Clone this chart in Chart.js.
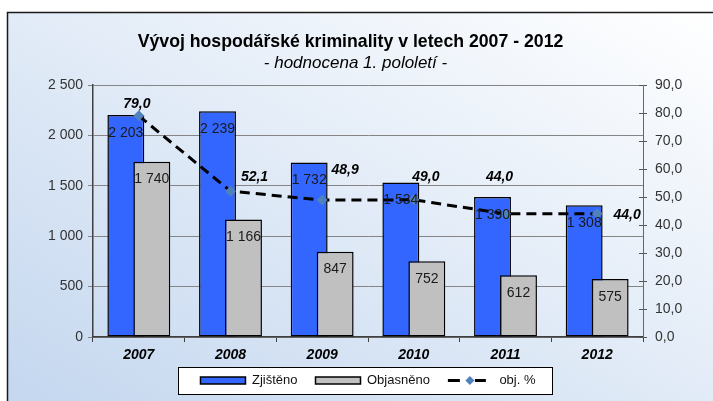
<!DOCTYPE html>
<html><head><meta charset="utf-8">
<script src="https://cdn.jsdelivr.net/npm/chart.js@4/dist/chart.umd.min.js"></script>
<style>html,body{margin:0;padding:0;background:#fff}canvas{display:block}</style>
</head><body>
<canvas id="c" width="713" height="401"></canvas>
<script>
// ---- data ----
const categories = ['2007', '2008', '2009', '2010', '2011', '2012'];
const zjisteno = [2203, 2239, 1732, 1534, 1390, 1308];
const objasneno = [1740, 1166, 847, 752, 612, 575];
const objPct = [79.0, 52.1, 48.9, 49.0, 44.0, 44.0];
const leftTicks = [0, 500, 1000, 1500, 2000, 2500];
const rightTicks = [0, 10, 20, 30, 40, 50, 60, 70, 80, 90];
const seriesNames = ['Zjištěno', 'Objasněno', 'obj. %'];
const titleText = 'Vývoj hospodářské kriminality v letech 2007 - 2012';
const subtitleText = '- hodnocena 1. pololetí -';

// ---- styles (label offsets for the % labels, px) ----
const pctLabelDx = [-2, 24, 23, 12, -6, 30];
const pctLabelDy = [-12, -14, -30, -23, -37, 1];

const FONT = "'Liberation Sans', Arial, sans-serif";
Chart.defaults.font.family = FONT;

const fmtThousands = v => String(Math.round(v)).replace(/\B(?=(\d{3})+(?!\d))/g, ' ');
const fmtPct = v => Number(v).toFixed(1).replace('.', ',');

const LINE_DS = 2;

const bgPlugin = {
  id: 'bgFrame',
  afterLayout(chart) {
    // nudge title blocks and legend like the original layout
    chart.boxes.forEach(b => {
      if (b.options && b.options.text === titleText) { b.left -= 10; b.right -= 10; }
      if (b.options && b.options.text === subtitleText) { b.left -= 5; b.right -= 5; }
    });
    const lg = chart.legend;
    if (lg) { lg.top -= 7; lg.bottom -= 7; }
  },
  beforeDraw(chart) {
    const ctx = chart.ctx, W = chart.width, H = chart.height;
    ctx.save();
    ctx.fillStyle = '#ffffff';
    ctx.fillRect(0, 0, W, H);
    const x0 = 7, y0 = 12, w = W - x0, h = H - y0;
    const ex = x0 + 2 * w * h * h / (w * w + h * h);
    const ey = (y0 + h) - 2 * h * w * w / (w * w + h * h);
    const g = ctx.createLinearGradient(x0, y0 + h, ex, ey);
    g.addColorStop(0, '#c4d7ef');
    g.addColorStop(1, '#ffffff');
    ctx.fillStyle = g;
    ctx.fillRect(x0, y0, w, h);
    ctx.strokeStyle = '#1a1a1a';
    ctx.lineWidth = 1.5;
    ctx.beginPath();
    ctx.moveTo(x0 + 0.5, H + 2);
    ctx.lineTo(x0 + 0.5, y0 + 0.5);
    ctx.lineTo(W + 2, y0 + 0.5);
    ctx.stroke();
    // legend frame
    const hb = chart.legend && chart.legend.legendHitBoxes;
    if (hb && hb.length) {
      const first = hb[0], last = hb[hb.length - 1];
      const cy = first.top + first.height / 2;
      const lx = Math.round(first.left - 22) + 0.5;
      const rx = Math.round(last.left + last.width + 16) + 0.5;
      const ty = Math.round(cy - 13.5) + 0.5;
      const by = Math.round(cy + 13.5) + 0.5;
      ctx.fillStyle = '#ffffff';
      ctx.fillRect(lx, ty, rx - lx, by - ty);
      ctx.strokeStyle = '#000';
      ctx.lineWidth = 1;
      ctx.strokeRect(lx, ty, rx - lx, by - ty);
    }
    ctx.restore();
  },
  afterDraw(chart) {
    const ctx = chart.ctx;
    // inner half of the secondary axis tick marks (they cross the axis line)
    const s = chart.scales.y1;
    if (s) {
      ctx.save();
      ctx.strokeStyle = '#555';
      ctx.lineWidth = 1;
      ctx.beginPath();
      s.ticks.forEach((t, i) => {
        const y = Math.round(s.getPixelForTick(i)) + 0.5;
        ctx.moveTo(s.left - 4, y);
        ctx.lineTo(s.left, y);
      });
      ctx.stroke();
      ctx.restore();
    }
    const lg = chart.legend;
    if (!lg || !lg.legendItems) return;
    const idx = lg.legendItems.findIndex(it => it.datasetIndex === LINE_DS);
    if (idx < 0) return;
    const b = lg.legendHitBoxes[idx];
    const cy = b.top + b.height / 2;
    const x0 = b.left;
    ctx.save();
    ctx.strokeStyle = '#000';
    ctx.lineWidth = 3;
    ctx.beginPath();
    ctx.moveTo(x0, cy); ctx.lineTo(x0 + 12, cy);
    ctx.moveTo(x0 + 27, cy); ctx.lineTo(x0 + 38, cy);
    ctx.stroke();
    ctx.fillStyle = '#4f81bd';
    ctx.beginPath();
    ctx.moveTo(x0 + 22, cy - 4.5);
    ctx.lineTo(x0 + 26.5, cy);
    ctx.lineTo(x0 + 22, cy + 4.5);
    ctx.lineTo(x0 + 17.5, cy);
    ctx.closePath();
    ctx.fill();
    ctx.restore();
  }
};

const labelPlugin = {
  id: 'valueLabels',
  afterDatasetsDraw(chart) {
    const ctx = chart.ctx;
    ctx.save();
    ctx.textAlign = 'center';
    ctx.textBaseline = 'middle';
    chart.data.datasets.forEach((ds, di) => {
      const meta = chart.getDatasetMeta(di);
      if (!meta.visible || ds.label === '') return;
      if (meta.type === 'bar') {
        ctx.font = '14px ' + FONT;
        ctx.fillStyle = '#1a1a1a';
        meta.data.forEach((el, i) => {
          ctx.fillText(fmtThousands(ds.data[i]), el.x, el.y + 18);
        });
      } else {
        ctx.font = 'italic bold 14px ' + FONT;
        ctx.fillStyle = '#000';
        meta.data.forEach((el, i) => {
          ctx.fillText(fmtPct(ds.data[i]), el.x + pctLabelDx[i], el.y + pctLabelDy[i]);
        });
      }
    });
    ctx.restore();
  }
};

new Chart(document.getElementById('c'), {
  type: 'bar',
  data: {
    labels: categories,
    datasets: [
      {
        label: seriesNames[0], data: zjisteno, stack: 'A', order: 2,
        backgroundColor: '#3366ff', borderColor: '#000', borderWidth: 1.5, borderSkipped: false,
        categoryPercentage: 0.567, barPercentage: 1.42
      },
      {
        label: seriesNames[1], data: objasneno, stack: 'B', order: 1,
        backgroundColor: '#c0c0c0', borderColor: '#000', borderWidth: 1.5, borderSkipped: false,
        categoryPercentage: 0.567, barPercentage: 1.42
      },
      {
        type: 'line', label: seriesNames[2], data: objPct, yAxisID: 'y1', order: -1,
        borderColor: '#000', borderWidth: 3, borderDash: [10, 6], fill: false, tension: 0,
        pointStyle: 'rectRot', pointRadius: 5.5, pointBackgroundColor: '#4f81bd',
        pointBorderColor: '#4f81bd', pointBorderWidth: 0
      },
      {
        // empty helper set so that Zjištěno sits left while Objasněno is painted over it
        label: '', data: categories.map(() => null), stack: 'A', order: 0,
        backgroundColor: 'rgba(0,0,0,0)', borderWidth: 0,
        categoryPercentage: 0.567, barPercentage: 1.42
      }
    ]
  },
  options: {
    responsive: false,
    animation: false,
    events: [],
    layout: { padding: { left: 8, right: 0, top: 12, bottom: -3 } },
    scales: {
      x: {
        offset: true,
        grid: { offset: true, drawOnChartArea: false, tickLength: 5, color: '#404040' },
        border: { color: '#404040', width: 1.5 },
        ticks: { font: { size: 14, weight: 'bold', style: 'italic' }, color: '#000', padding: 5, maxRotation: 0, autoSkip: false },
        afterFit: s => { s.height = 26; }
      },
      y: {
        position: 'left', stacked: false,
        min: leftTicks[0], max: leftTicks[leftTicks.length - 1],
        ticks: { stepSize: leftTicks[1] - leftTicks[0], callback: v => fmtThousands(v), font: { size: 14 }, color: '#333', padding: 5 },
        grid: { color: '#858585', tickLength: 5, lineWidth: 1 },
        border: { color: '#404040', width: 1.5 },
        afterFit: s => { s.width = 85; }
      },
      y1: {
        position: 'right', stacked: false,
        min: rightTicks[0], max: rightTicks[rightTicks.length - 1],
        ticks: { stepSize: rightTicks[1] - rightTicks[0], callback: v => fmtPct(v), font: { size: 14 }, color: '#333', padding: 8 },
        grid: { drawOnChartArea: false, tickLength: 4, color: '#555' },
        border: { color: '#666', width: 1 },
        afterFit: s => { s.width = 70; }
      }
    },
    plugins: {
      title: {
        display: true, text: titleText, color: '#000',
        font: { size: 17.7, weight: 'bold' }, padding: { top: 19.5, bottom: 0 }
      },
      subtitle: {
        display: true, text: subtitleText, color: '#000',
        font: { size: 17, style: 'italic' }, padding: { top: 0, bottom: 11.9 }
      },
      legend: {
        position: 'bottom', fullSize: false,
        labels: {
          font: { size: 13 }, color: '#111', boxWidth: 45, boxHeight: 7, padding: 18,
          filter: item => item.text !== '',
          sort: (a, b) => a.datasetIndex - b.datasetIndex,
          generateLabels: chart => {
            const items = Chart.defaults.plugins.legend.labels.generateLabels(chart);
            items.forEach(it => {
              if (it.datasetIndex === LINE_DS) {
                it.fillStyle = 'rgba(0,0,0,0)';
                it.strokeStyle = 'rgba(0,0,0,0)';
                it.lineWidth = 0;
                it.lineDash = [];
              }
            });
            return items;
          }
        }
      },
      tooltip: { enabled: false }
    }
  },
  plugins: [bgPlugin, labelPlugin]
});
</script>
</body></html>
